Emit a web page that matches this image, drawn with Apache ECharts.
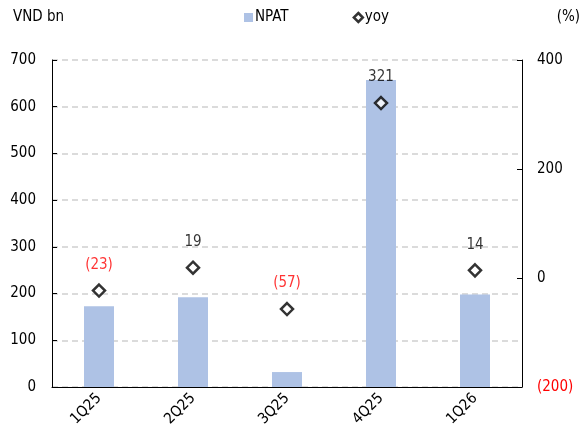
<!DOCTYPE html>
<html><head><meta charset="utf-8">
<script src="https://cdn.jsdelivr.net/npm/echarts@6/dist/echarts.min.js"></script>
<style>html,body{margin:0;padding:0;background:#fff}#c{width:584px;height:437px}</style>
</head><body><div id="c"></div>
<script>
const categories = ['1Q25','2Q25','3Q25','4Q25','1Q26'];
const npat = [173, 192, 32, 657, 198];
const yoy = [-23, 19, -57, 321, 14];
const leftTicks = [0, 100, 200, 300, 400, 500, 600, 700];
const rightTicks = [-200, 0, 200, 400];

const FONT = '"DejaVu Sans Condensed", "Liberation Sans", sans-serif';
const FS = 15;
const fmtNeg = v => v < 0 ? '{neg|(' + Math.abs(v) + ')}' : '{pos|' + v + '}';
const rich = {
  neg: { color: '#ff0000', fontSize: FS, fontFamily: FONT },
  pos: { color: '#000', fontSize: FS, fontFamily: FONT }
};

const chart = echarts.init(document.getElementById('c'));
chart.setOption({
  animation: false,
  textStyle: { fontFamily: FONT },
  grid: { left: 52, right: 62, top: 60, bottom: 50 },
  legend: {
    top: 5, left: 239, itemGap: 64, itemWidth: 9, itemHeight: 9,
    textStyle: { fontSize: FS, color: '#000', fontFamily: FONT, padding: [0, 0, 0, -3] },
    data: [
      { name: 'NPAT', icon: 'rect' },
      { name: 'yoy', icon: 'diamond', itemStyle: { color: '#fff', borderColor: '#000', borderWidth: 2.5 } }
    ]
  },
  graphic: [
    { type: 'text', left: 13, top: 10, style: { text: 'VND bn', fontSize: FS, fill: '#000', fontFamily: FONT } },
    { type: 'text', right: 4, top: 10, style: { text: '(%)', fontSize: FS, fill: '#000', fontFamily: FONT } }
  ],
  xAxis: {
    type: 'category', data: categories, boundaryGap: true,
    axisLine: { lineStyle: { color: '#000', width: 1 } },
    axisTick: { inside: true, length: 5, lineStyle: { color: '#000' } },
    axisLabel: { rotate: 45, fontSize: FS, color: '#000', margin: 9, fontFamily: FONT }
  },
  yAxis: [
    {
      type: 'value', min: leftTicks[0], max: leftTicks[leftTicks.length - 1], interval: 100,
      axisLine: { show: true, lineStyle: { color: '#000' } },
      axisTick: { show: true, inside: true, length: 5, lineStyle: { color: '#000' } },
      axisLabel: { fontSize: FS, color: '#000', margin: 16, fontFamily: FONT },
      splitLine: { show: true, lineStyle: { color: '#d0d0d0', type: [6, 4], width: 1.5 } }
    },
    {
      type: 'value', min: rightTicks[0], max: rightTicks[rightTicks.length - 1], interval: 200,
      axisLine: { show: true, lineStyle: { color: '#000' } },
      axisTick: { show: true, inside: true, length: 5, lineStyle: { color: '#000' } },
      splitLine: { show: false },
      axisLabel: { fontSize: FS, margin: 15, fontFamily: FONT, formatter: fmtNeg, rich: rich }
    }
  ],
  series: [
    {
      name: 'NPAT', type: 'bar', data: npat, barWidth: 30,
      itemStyle: { color: '#aec2e5' }, z: 1
    },
    {
      name: 'yoy', type: 'scatter', yAxisIndex: 1, data: yoy,
      symbol: 'diamond', symbolSize: 12,
      itemStyle: { color: '#fff', borderColor: '#000', borderWidth: 2.5 },
      label: {
        show: true, position: 'top', distance: 11, fontFamily: FONT,
        formatter: p => fmtNeg(p.value), rich: rich
      },
      z: 3
    }
  ]
});
</script>
</body></html>
